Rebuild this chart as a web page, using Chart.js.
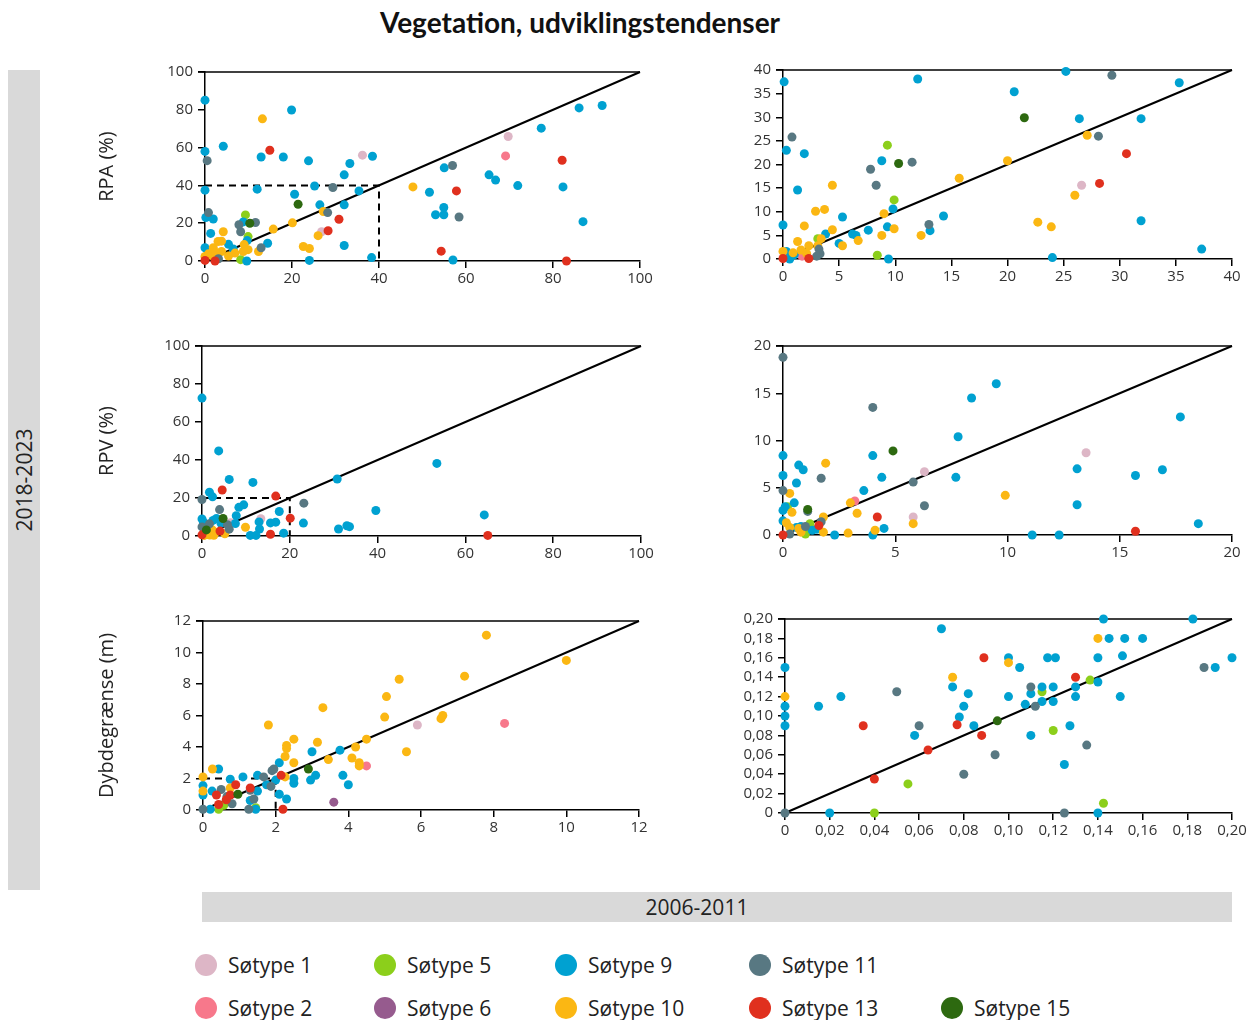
<!DOCTYPE html>
<html>
<head>
<meta charset="utf-8">
<title>Vegetation, udviklingstendenser</title>
<script src="https://cdn.jsdelivr.net/npm/chart.js@4.4.1/dist/chart.umd.min.js"></script>
<style>
  body { margin: 0; width: 1251px; height: 1020px; position: relative; background: #fff; overflow: hidden; font-family: "Open Sans", sans-serif; color: #222; }
  canvas { position: absolute; }
  #title { position: absolute; left: 330px; width: 500px; top: 5px; text-align: center; font: 700 28px Lato, sans-serif; color: #111; white-space: nowrap; }
  #periodY { position: absolute; left: 8px; top: 70px; width: 32px; height: 820px; background: #d9d9d9; }
  #periodY span { position: absolute; left: 50%; top: 50%; transform: translate(-50%, -50%) rotate(-90deg); font-size: 21px; white-space: nowrap; }
  #periodX { position: absolute; left: 202px; top: 892px; width: 990px; padding-right: 40px; height: 30px; background: #d9d9d9; text-align: center; line-height: 30px; font-size: 21px; }
  .item { position: absolute; font-size: 21px; line-height: 22px; white-space: nowrap; }
  .item i { position: absolute; left: -33px; top: 0; width: 22px; height: 22px; border-radius: 50%; }
</style>
</head>
<body>
<div id="title">Vegetation, udviklingstendenser</div>
<div id="periodY"><span>2018-2023</span></div>
<div id="periodX">2006-2011</div>
<canvas id="rpaAllChart"></canvas>
<canvas id="rpaZoomChart"></canvas>
<canvas id="rpvAllChart"></canvas>
<canvas id="rpvZoomChart"></canvas>
<canvas id="dybdeAllChart"></canvas>
<canvas id="dybdeZoomChart"></canvas>
<div id="legend"></div>
<script>
// søtyper and their colours
const sotypes = [1, 2, 5, 6, 9, 10, 11, 13, 15];
const sotypeColors = ["#ddb6c6", "#f7788b", "#8ccf1b", "#965b8e", "#00a1d1", "#fbb713", "#587882", "#e0301e", "#2d6910"];

// rows: [søtype, 2006-2011, 2018-2023]
const rpaAll = [
  [9,0,85.1],[9,19.9,79.9],[9,4.2,60.7],[9,0,58],[9,12.9,55],[9,18,55],[9,23.8,53],[9,38.5,55.4],[9,33.3,51.6],[9,32,45.6],
  [9,0,37.5],[9,12,38],[9,20.6,35.3],[9,25.2,39.7],[9,35.4,37.1],[9,26.4,29.7],[9,32,29.7],[9,86,81],[9,91.3,82.3],[9,77.3,70.3],
  [9,55,49.3],[9,65.3,45.6],[9,66.8,42.8],[9,71.9,39.9],[9,82.3,39.2],[9,51.6,36.4],[9,53,24.5],[9,54.9,24.5],[9,54.9,28.3],[9,86.9,20.8],
  [9,57,0.5],[9,32,8.2],[9,38.3,1.8],[9,24,0.3],[9,9.6,0],[9,0,7],[9,0.2,23],[9,1.9,22.2],[9,1.3,14.6],[9,5.4,8.8],
  [9,14.4,9.4],[9,8.8,20.7],[9,9.7,10.8],[9,6.5,6.4],
  [11,0.5,53.1],[11,0.8,25.6],[11,7.8,19.2],[11,11.6,20.4],[11,8.2,15.5],[11,12.9,7],[11,29.4,38.9],[11,28.2,25.6],[11,56.9,50.5],[11,58.4,23.3],[11,3.1,1.2],
  [10,13.2,75.2],[10,47.8,39.2],[10,27.2,26.2],[10,20.1,20.2],[10,15.7,16.9],[10,26,13.4],[10,4.2,15.5],[10,3,10.3],[10,3.8,10.5],[10,1.9,7],
  [10,9,8.7],[10,9.9,6],[10,8.8,5],[10,12.3,5],[10,6.9,4.2],[10,5.4,2.6],[10,3.8,5],[10,22.6,7.7],[10,24,6.6],[10,0.8,3.8],[10,1.5,2.9],[10,0,2.4],[10,2.5,4.5],
  [13,14.9,58.6],[13,82.1,53.3],[13,57.8,37.1],[13,30.8,22.1],[13,28.3,16],[13,54.3,5.2],[13,83.1,0],[13,0,0.3],[13,2.3,0],
  [1,36.2,56],[1,69.7,65.9],[1,26.8,15.5],
  [2,69.1,55.6],
  [5,9.3,24.4],[5,9.9,12.9],[5,8.2,0.7],
  [15,21.4,30],[15,10.3,20]
];

const rpaZoom = [
  [9,0.1,37.5],[9,12,38.1],[9,25.2,39.7],[9,20.6,35.4],[9,35.3,37.3],[9,26.4,29.7],[9,31.9,29.7],[9,0.3,23],[9,1.9,22.3],[9,1.3,14.6],
  [9,8.8,20.8],[9,9.8,10.6],[9,5.3,8.9],[9,14.3,9.1],[9,9.3,6.8],[9,7.6,6.1],[9,6.2,5.3],[9,6.5,5],[9,13.1,6],[9,3.8,5.3],
  [9,5,3.3],[9,0,7.2],[9,31.9,8.1],[9,37.3,2.1],[9,9.4,0],[9,24,0.3],[9,0.3,1.6],[9,0.6,0],[9,1,0.9],
  [11,29.3,38.9],[11,0.8,25.8],[11,28.1,26],[11,7.8,19],[11,11.5,20.5],[11,8.3,15.6],[11,13,7.3],[11,3.2,2.1],[11,3.3,1.1],[11,3,0.6],
  [15,21.5,29.9],[15,10.3,20.2],
  [5,9.3,24.1],[5,9.9,12.5],[5,8.4,0.8],[5,3.1,4.3],
  [10,27.1,26.2],[10,20,20.8],[10,15.7,17.1],[10,4.4,15.6],[10,2.9,10.1],[10,3.7,10.5],[10,1.9,7],[10,4.4,6.2],[10,9,9.6],[10,9.9,6.4],
  [10,8.8,5],[10,12.3,5],[10,6.7,3.9],[10,5.3,2.8],[10,22.7,7.8],[10,23.9,6.8],[10,26,13.5],[10,1.3,3.7],[10,3.4,4.3],[10,3.1,2.8],
  [10,2.3,2.8],[10,1.6,1.9],[10,0,1.6],[10,0.9,1.3],[10,2.1,1.2],
  [13,30.6,22.3],[13,28.2,16],[13,0,0.1],[13,2.3,0.1],
  [1,26.6,15.6],
  [2,1.7,0.6]
];

const rpvAll = [
  [9,0,72.6],[9,3.8,44.8],[9,6.2,29.8],[9,11.6,28.2],[9,30.8,30],[9,53.5,38.2],[9,39.6,13.4],[9,64.3,11.1],[9,1.7,23],[9,2.4,20.6],
  [9,8.4,15.1],[9,9.5,16.4],[9,17.6,12.9],[9,7.8,10.7],[9,13,7.4],[9,15.6,6.9],[9,16.8,7.3],[9,23.1,6.8],[9,31.1,3.7],[9,33,5.4],
  [9,33.6,4.9],[9,13.1,3.7],[9,11,0.3],[9,12.3,0.3],[9,18.6,1.5],[9,7.6,6.6],[9,0,9],[9,0.3,7.4],[9,3.3,9.2],[9,2.5,8.2],
  [9,4.3,6.8],[9,1.5,4.5],[9,0.5,1.5],
  [11,0,19.2],[11,23.2,17.3],[11,4,13.9],[11,1.7,6.4],[11,6.2,3.6],[11,5.8,5.9],[11,0,4.8],
  [13,4.6,24.2],[13,16.8,21],[13,20.1,9.4],[13,15.6,0.9],[13,65.1,0.3],[13,0,0.6],[13,4.1,2.6],
  [1,13.4,9.1],[1,6.5,7],
  [10,9.9,4.6],[10,1.2,1.5],[10,2.4,3.1],[10,0.5,0.3],[10,3,2],[10,5.2,1.2],[10,1.8,0.5],[10,2.7,0.4],
  [15,4.8,9.2],[15,1,3.2]
];

const rpvZoom = [
  [11,0,18.8],[11,4,13.5],[11,1.7,6],[11,5.8,5.6],[11,6.3,3.1],[11,0,4.7],[11,1.1,2.5],[11,0.3,0.1],[11,1.7,1.4],[11,1,0.9],
  [9,9.5,16],[9,8.4,14.5],[9,17.7,12.5],[9,7.8,10.4],[9,0,8.4],[9,4,8.4],[9,0.7,7.4],[9,0.9,6.9],[9,0,6.3],[9,4.4,6.1],
  [9,7.7,6.1],[9,0.6,5.5],[9,3.6,4.7],[9,0.5,3.4],[9,0.1,3],[9,0,2.6],[9,0,1.5],[9,13.1,7],[9,16.9,6.9],[9,15.7,6.3],
  [9,13.1,3.2],[9,18.5,1.2],[9,4.5,0.7],[9,2.3,0],[9,4,0],[9,11.1,0],[9,12.3,0],[9,1.3,0.5],[9,1.5,0.6],[9,0.6,0.8],[9,0.8,0.9],
  [10,1.9,7.6],[10,9.9,4.2],[10,0.3,4.4],[10,0.4,2.4],[10,3,3.4],[10,3.3,2.3],[10,1.8,1.9],[10,5.8,1.2],[10,4.1,0.5],[10,2.9,0.2],
  [10,1.8,0.3],[10,0.15,1.3],[10,0.3,0.8],[10,0.7,0.7],[10,0.8,0.3],
  [1,13.5,8.7],[1,6.3,6.7],[1,5.8,1.9],
  [2,3.2,3.6],
  [13,4.2,1.9],[13,1.6,1],[13,15.7,0.4],[13,0,0],
  [15,4.9,8.9],[15,1.1,2.7],
  [5,0.2,3],[5,1.2,1.2],[5,1,0.1]
];

const dybdeAll = [
  [10,7.8,11.1],[10,10,9.5],[10,7.2,8.5],[10,5.4,8.3],[10,5.05,7.2],[10,3.3,6.5],[10,5,5.9],[10,6.55,5.8],[10,6.6,6],[10,1.8,5.4],
  [10,2.5,4.5],[10,4.5,4.5],[10,3.15,4.3],[10,2.3,4.1],[10,2.3,3.9],[10,4.2,4],[10,2.26,3.4],[10,5.6,3.7],[10,3.45,3.2],[10,4.1,3.3],
  [10,4.3,3],[10,4.3,2.8],[10,2.5,3],[10,0.26,2.6],[10,0,2.1],[10,0,1.2],[10,2.26,2.1],[10,0.75,1.4],
  [1,5.9,5.4],
  [2,8.3,5.5],[2,4.5,2.8],
  [6,3.6,0.5],
  [15,2.9,2.6],[15,0.96,1],
  [9,3.77,3.8],[9,3,3.7],[9,2.1,3],[9,3.1,2.2],[9,2.96,1.9],[9,3.85,2.2],[9,4,1.6],[9,2.5,2],[9,2.5,1.7],[9,2.3,0.7],
  [9,2.1,1],[9,0.43,2.6],[9,0,1.55],[9,0,0.95],[9,0.25,1.2],[9,0.2,0.05],[9,1.45,0.05],[9,1.1,2.1],[9,0.75,1.95],[9,1.5,2.2],
  [9,2,1.9],[9,1.75,1.6],[9,1.5,1.2],[9,1.3,0.6],
  [11,1.9,2.5],[11,1.95,2.6],[11,1.67,2.1],[11,1.87,1.5],[11,1.3,1.25],[11,1.4,0.7],[11,0.5,1.3],[11,0.8,0.4],[11,0,0.05],[11,1.26,0.05],[11,0.66,0.85],
  [13,2.15,2.2],[13,0.9,1.6],[13,1.3,1.4],[13,0.75,0.95],[13,0.64,0.65],[13,0.37,0.95],[13,0.43,0.35],[13,2.2,0.05],
  [5,0.57,0.3],[5,0.43,0.05],[5,1.45,0.15]
];

const dybdeZoom = [
  [9,0,0.15],[9,0,0.11],[9,0,0.1],[9,0,0.09],[9,0.015,0.11],[9,0.025,0.12],[9,0.02,0],[9,0.07,0.19],[9,0.075,0.13],[9,0.082,0.123],
  [9,0.08,0.11],[9,0.078,0.099],[9,0.058,0.08],[9,0.0845,0.09],[9,0.1,0.16],[9,0.105,0.15],[9,0.1,0.12],[9,0.11,0.123],[9,0.1075,0.112],[9,0.11,0.08],
  [9,0.1175,0.16],[9,0.121,0.16],[9,0.115,0.13],[9,0.12,0.13],[9,0.115,0.115],[9,0.12,0.115],[9,0.13,0.13],[9,0.13,0.12],[9,0.1275,0.09],[9,0.125,0.05],
  [9,0.14,0.16],[9,0.14,0.135],[9,0.1425,0.2],[9,0.145,0.18],[9,0.152,0.18],[9,0.16,0.18],[9,0.151,0.162],[9,0.15,0.12],[9,0.1825,0.2],[9,0.1925,0.15],
  [9,0.2,0.16],[9,0.14,0],
  [10,0,0.12],[10,0.075,0.14],[10,0.1,0.155],[10,0.14,0.18],
  [13,0.035,0.09],[13,0.04,0.035],[13,0.064,0.065],[13,0.077,0.091],[13,0.089,0.16],[13,0.088,0.08],[13,0.13,0.14],
  [11,0,0],[11,0.05,0.125],[11,0.06,0.09],[11,0.08,0.04],[11,0.094,0.06],[11,0.11,0.13],[11,0.112,0.11],[11,0.125,0],[11,0.135,0.07],[11,0.1875,0.15],
  [5,0.04,0],[5,0.055,0.03],[5,0.115,0.125],[5,0.12,0.085],[5,0.1365,0.137],[5,0.1425,0.01],
  [15,0.095,0.095]
];

Chart.defaults.font.family = "'Open Sans', sans-serif";
Chart.defaults.color = "#333";

// top border of each plot, running out over the y tick
const topBorder = {
  id: "topBorder",
  beforeDatasetsDraw(chart) {
    const { ctx, chartArea: a } = chart;
    ctx.save();
    ctx.strokeStyle = "#000";
    ctx.lineWidth = 1.5;
    ctx.beginPath();
    ctx.moveTo(a.left - 7, a.top);
    ctx.lineTo(a.right, a.top);
    ctx.stroke();
    ctx.restore();
  }
};

function decimalComma(v) {
  return v === 0 ? "0" : v.toFixed(2).replace(".", ",");
}

function panel(id, box, max, step, rows, yTitle, refBox, useComma) {
  const canvas = document.getElementById(id);
  const cLeft = yTitle ? 55 : 715;
  const cTop = box.top - 12;
  canvas.width = box.right + 18 - cLeft;
  canvas.height = box.bottom + 34 - cTop;
  canvas.style.left = cLeft + "px";
  canvas.style.top = cTop + "px";

  const datasets = sotypes.map((t, i) => ({
    type: "scatter",
    label: "Søtype " + t,
    data: rows.filter(r => r[0] === t).map(r => ({ x: r[1], y: r[2] })),
    backgroundColor: sotypeColors[i],
    borderWidth: 0,
    pointRadius: 4.5,
    clip: false,
    order: sotypes.length - i
  })).filter(d => d.data.length);

  // 1:1 line
  datasets.push({
    type: "line",
    data: [{ x: 0, y: 0 }, { x: max, y: max }],
    borderColor: "#000",
    borderWidth: 2,
    pointRadius: 0,
    clip: false,
    order: 100
  });
  if (refBox) {
    datasets.push({
      type: "line",
      data: [{ x: 0, y: refBox }, { x: refBox, y: refBox }, { x: refBox, y: 0 }],
      borderColor: "#000",
      borderWidth: 2,
      borderDash: [7, 5],
      pointRadius: 0,
      order: 99
    });
  }

  const tickFont = { size: 15 };
  const fmt = useComma ? decimalComma : v => String(Math.round(v * 100) / 100);
  const axisLine = { display: true, color: "#000", width: 1.5 };
  const tickGrid = { drawOnChartArea: false, drawTicks: true, tickLength: 7, color: "#000", lineWidth: 1.5 };

  new Chart(canvas, {
    data: { datasets },
    plugins: [topBorder],
    options: {
      responsive: false,
      animation: false,
      layout: { padding: { top: 12, right: 18, left: 0, bottom: 0 } },
      plugins: { legend: { display: false }, tooltip: { enabled: false } },
      scales: {
        x: {
          type: "linear", min: 0, max: max,
          border: axisLine, grid: tickGrid,
          ticks: { stepSize: step, autoSkip: false, maxRotation: 0, font: tickFont, padding: 2, callback: fmt },
          afterFit: s => { s.height = 34; }
        },
        y: {
          type: "linear", min: 0, max: max,
          border: axisLine, grid: tickGrid,
          ticks: { stepSize: step, autoSkip: false, font: tickFont, padding: 5, callback: fmt },
          title: { display: !!yTitle, text: yTitle || "", font: { size: 20 }, color: "#222", padding: { top: 40, bottom: 0 } },
          afterFit: s => { s.width = box.left - cLeft; }
        }
      }
    }
  });
}

panel("rpaAllChart", { left: 205, right: 640, top: 70, bottom: 261 }, 100, 20, rpaAll, "RPA (%)", 40);
panel("rpaZoomChart", { left: 783, right: 1232, top: 68, bottom: 259 }, 40, 5, rpaZoom, null, null);
panel("rpvAllChart", { left: 202, right: 641, top: 344, bottom: 536 }, 100, 20, rpvAll, "RPV (%)", 20);
panel("rpvZoomChart", { left: 783, right: 1232, top: 344, bottom: 535 }, 20, 5, rpvZoom, null, null);
panel("dybdeAllChart", { left: 203, right: 639, top: 619, bottom: 810 }, 12, 2, dybdeAll, "Dybdegrænse (m)", 2);
panel("dybdeZoomChart", { left: 785, right: 1232, top: 617, bottom: 813 }, 0.2, 0.02, dybdeZoom, null, null, true);

// legend, two rows
const legendSpots = [[228, 954], [228, 997], [407, 954], [407, 997], [588, 954], [588, 997], [782, 954], [782, 997], [974, 997]];
const legend = document.getElementById("legend");
sotypes.forEach((t, i) => {
  const el = document.createElement("div");
  el.className = "item";
  el.style.left = legendSpots[i][0] + "px";
  el.style.top = legendSpots[i][1] + "px";
  el.innerHTML = '<i style="background:' + sotypeColors[i] + '"></i>Søtype ' + t;
  legend.appendChild(el);
});
</script>
</body>
</html>
